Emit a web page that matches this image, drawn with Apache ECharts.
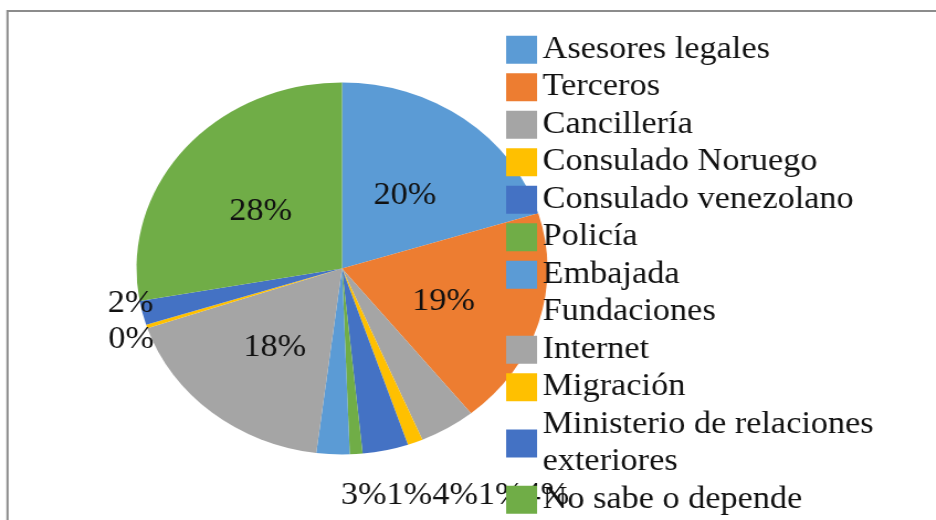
<!DOCTYPE html>
<html>
<head>
<meta charset="utf-8">
<script src="https://cdn.jsdelivr.net/npm/echarts@6/dist/echarts.min.js"></script>
<style>
    html, body { margin: 0; padding: 0; background: #fff; overflow: hidden; }
    #wrap { width: 936px; height: 520px; position: relative; overflow: hidden; }
    /* the original figure is stretched sideways, so the chart is drawn narrow and widened */
    #chart { width: 847px; height: 520px; transform: scaleX(1.105); transform-origin: 0 0; }
</style>
</head>
<body>
<div id="wrap"><div id="chart"></div></div>
<script>
    var categories = ['Asesores legales', 'Terceros', 'Cancillería', 'Consulado Noruego', 'Consulado venezolano',
        'Policía', 'Embajada', 'Fundaciones', 'Internet', 'Migración', 'Ministerio de relaciones exteriores', 'No sabe o depende'];
    var shares = [20.2, 19.0, 4.4, 1.2, 3.6, 1.0, 2.6, 0, 17.8, 0.3, 2.1, 27.8];
    var colors = ['#5B9BD5', '#ED7D31', '#A5A5A5', '#FFC000', '#4472C4', '#70AD47',
        '#5B9BD5', '#ED7D31', '#A5A5A5', '#FFC000', '#4472C4', '#70AD47'];
    // small slices whose labels sit in one row under the pie (left to right)
    var bottomRow = ['Embajada', 'Policía', 'Consulado venezolano', 'Consulado Noruego', 'Cancillería'];

    var cx = 309.5, cy = 268.5, font = 'Liberation Serif';

    var data = [];
    for (var i = 0; i < categories.length; i++) {
        var item = {name: categories[i], value: shares[i], itemStyle: {color: colors[i]}};
        if (shares[i] === 0) {
            item.label = {show: false};
        } else if (shares[i] < 10) {
            item.label = {position: 'outside'};
        }
        data.push(item);
    }

    var legendData = categories.map(function (n) {
        return n === 'Fundaciones' ? {name: n, itemStyle: {opacity: 0}} : n;
    });

    var mChart = echarts.init(document.getElementById('chart'));
    mChart.setOption({
        animation: false,
        graphic: [{
            type: 'rect',
            shape: {x: 6.8, y: 11, width: 900, height: 600},
            style: {fill: 'none', stroke: '#8c8c8c', lineWidth: 2},
            silent: true
        }],
        legend: {
            orient: 'vertical',
            left: 458,
            top: 31,
            padding: 0,
            itemWidth: 28,
            itemHeight: 28,
            itemGap: 0,
            icon: 'rect',
            selectedMode: false,
            data: legendData,
            formatter: function (name) {
                return name === 'Ministerio de relaciones exteriores' ? 'Ministerio de relaciones\nexteriores' : name;
            },
            textStyle: {fontFamily: font, fontSize: 31, color: '#111', lineHeight: 37.5}
        },
        series: [{
            type: 'pie',
            center: [cx, cy],
            radius: 186,
            startAngle: 90,
            percentPrecision: 2,
            avoidLabelOverlap: true,
            minShowLabelAngle: 0,
            label: {
                show: true,
                position: 'inside',
                fontFamily: font,
                fontSize: 31,
                color: '#111',
                formatter: function (p) { return Math.round(p.percent) + '%'; }
            },
            labelLine: {show: false, length: 0, length2: 0},
            labelLayout: function (p) {
                var name = categories[p.dataIndex];
                var k = bottomRow.indexOf(name);
                if (k >= 0) {
                    return {
                        x: cx - 1 + k * p.labelRect.width,
                        y: 496,
                        align: 'left',
                        verticalAlign: 'middle'
                    };
                }
                if (name === 'Ministerio de relaciones exteriores') return {dx: 10, dy: -9};
                if (name === 'Migración') return {dx: -1, dy: -6};
                return {dy: 5};
            },
            emphasis: {disabled: true},
            data: data
        }]
    });
</script>
</body>
</html>
